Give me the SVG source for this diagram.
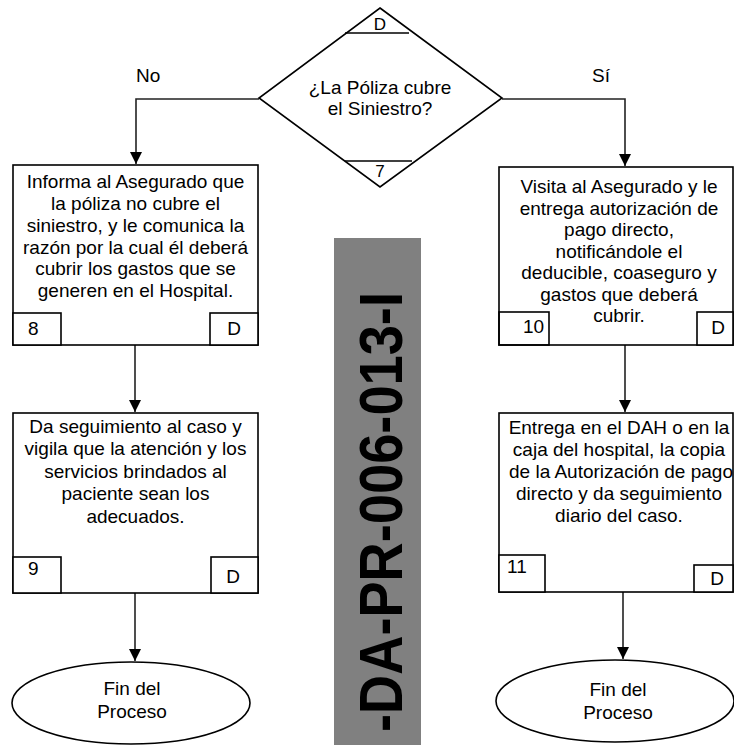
<svg xmlns="http://www.w3.org/2000/svg" width="734" height="745" viewBox="0 0 734 745">
<defs>
<marker id="arr" markerUnits="userSpaceOnUse" markerWidth="13" markerHeight="13" refX="12" refY="6" orient="auto">
<path d="M0,0 L12,6 L0,12 z" fill="#000"/>
</marker>
<style>
text{font-family:"Liberation Sans",Arial,sans-serif;font-size:19px;fill:#000}
.c{text-anchor:middle}
.s{fill:#fff;stroke:#000;stroke-width:1.6}
.l{fill:none;stroke:#000;stroke-width:1.6}
.w{fill:none;stroke:#222;stroke-width:1.6}
</style>
</defs>
<rect width="734" height="745" fill="#fff"/>

<g id="connectors">
<polyline class="w" points="259,99 136,99 136,164" marker-end="url(#arr)"/>
<polyline class="w" points="502,99 625,99 625,166" marker-end="url(#arr)"/>
<line class="w" x1="135" y1="345" x2="135" y2="412" marker-end="url(#arr)"/>
<line class="w" x1="625" y1="345" x2="625" y2="412" marker-end="url(#arr)"/>
<line class="w" x1="135" y1="593" x2="135" y2="661" marker-end="url(#arr)"/>
<line class="w" x1="623" y1="592" x2="623" y2="659" marker-end="url(#arr)"/>
<text x="136" y="82">No</text>
<text x="592" y="82">Sí</text>
</g>

<g id="decision7">
<polygon class="s" points="380,8 502,98 380,187 259,98"/>
<line class="l" x1="345" y1="33" x2="409" y2="33"/>
<line class="l" x1="345" y1="161" x2="412" y2="161"/>
<text class="c" x="380" y="30" style="font-size:17px">D</text>
<text class="c" x="380" y="177" style="font-size:17px">7</text>
<text class="c" x="380" y="94">¿La Póliza cubre</text>
<text class="c" x="380" y="115">el Siniestro?</text>
</g>

<g id="step8">
<rect class="s" x="13" y="165" width="245" height="180"/>
<rect class="s" x="13" y="313" width="48" height="32"/>
<rect class="s" x="210" y="313" width="48" height="32"/>
<text x="28" y="335">8</text>
<text class="c" x="234" y="335">D</text>
<text class="c" x="135.5" y="188">Informa al Asegurado que</text>
<text class="c" x="135.5" y="210">la póliza no cubre el</text>
<text class="c" x="135.5" y="232">siniestro, y le comunica la</text>
<text class="c" x="135.5" y="254">razón por la cual él deberá</text>
<text class="c" x="135.5" y="275">cubrir los gastos que se</text>
<text class="c" x="135.5" y="297">generen en el Hospital.</text>
</g>

<g id="step10">
<rect class="s" x="499" y="167" width="234" height="178"/>
<text class="c" x="619" y="193">Visita al Asegurado y le</text>
<text class="c" x="619" y="215">entrega autorización de</text>
<text class="c" x="619" y="236">pago directo,</text>
<text class="c" x="619" y="258">notificándole el</text>
<text class="c" x="619" y="279">deducible, coaseguro y</text>
<text class="c" x="619" y="301">gastos que deberá</text>
<text class="c" x="619" y="322">cubrir.</text>
<rect class="s" x="499" y="312" width="50" height="33" style="fill:none"/>
<rect class="s" x="697" y="312" width="36" height="33"/>
<text x="523" y="333">10</text>
<text class="c" x="718" y="334">D</text>
</g>

<g id="step9">
<rect class="s" x="13" y="413" width="245" height="180"/>
<rect class="s" x="13" y="557" width="48" height="36"/>
<rect class="s" x="211" y="557" width="47" height="36"/>
<text x="28" y="575">9</text>
<text class="c" x="233" y="583">D</text>
<text class="c" x="135.5" y="433">Da seguimiento al caso y</text>
<text class="c" x="135.5" y="455">vigila que la atención y los</text>
<text class="c" x="135.5" y="478">servicios brindados al</text>
<text class="c" x="135.5" y="500">paciente sean los</text>
<text class="c" x="135.5" y="523">adecuados.</text>
</g>

<g id="step11">
<rect class="s" x="499" y="413" width="234" height="179"/>
<rect class="s" x="499" y="555" width="46" height="37"/>
<rect class="s" x="694" y="565" width="39" height="27"/>
<text x="507" y="573">11</text>
<text class="c" x="717" y="585">D</text>
<text class="c" x="619" y="434">Entrega en el DAH o en la</text>
<text class="c" x="619" y="456">caja del hospital,  la copia</text>
<text class="c" x="621" y="478">de la Autorización de pago</text>
<text class="c" x="619" y="500">directo y da seguimiento</text>
<text class="c" x="619" y="522">diario del caso.</text>
</g>

<g id="end-left">
<ellipse class="s" cx="131" cy="703" rx="119" ry="41"/>
<text class="c" x="132" y="695">Fin del</text>
<text class="c" x="132" y="718">Proceso</text>
</g>

<g id="end-right">
<ellipse class="s" cx="615" cy="701" rx="119" ry="41"/>
<text class="c" x="618" y="696">Fin del</text>
<text class="c" x="618" y="719">Proceso</text>
</g>

<g id="code-label">
<rect x="334" y="238" width="87" height="510" fill="#808080"/>
<text transform="translate(402,512) rotate(-90)" class="c" style="font-size:61px;font-weight:bold" textLength="440" lengthAdjust="spacingAndGlyphs">-DA-PR-006-013-I</text>
</g>
</svg>
